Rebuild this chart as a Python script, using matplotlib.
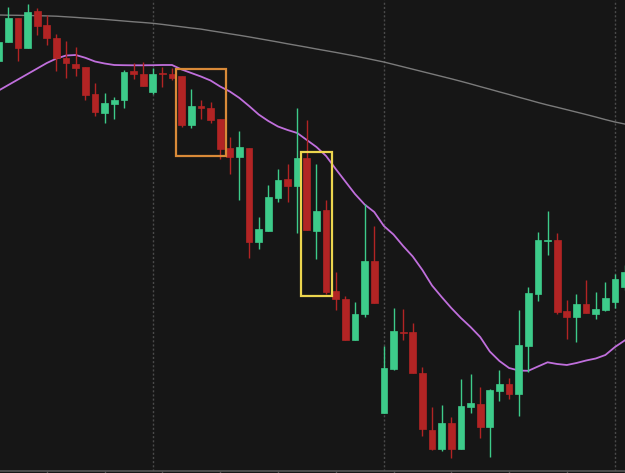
import matplotlib
matplotlib.use("Agg")
import matplotlib.pyplot as plt
from matplotlib.patches import Rectangle
import numpy as np

# ---------------- data ----------------
opens = [439.0, 458.3, 481.7, 452.3, 489.0, 475.0, 462.3, 441.7, 436.0, 433.3,
         406.0, 387.5, 396.3, 399.7, 429.0, 426.0, 408.3, 426.7, 426.0, 424.0,
         375.0, 394.3, 391.7, 380.7, 351.7, 342.7, 352.3, 258.3, 269.3, 301.7,
         320.7, 314.0, 341.7, 269.3, 290.0, 209.0, 201.5, 160.0, 185.8, 239.3,
         87.3, 131.0, 168.3, 168.3, 126.7, 70.0, 50.7, 76.7, 50.7, 93.3,
         96.0, 73.3, 109.3, 116.0, 106.0, 154.3, 206.0, 259.2, 260.0, 189.0,
         182.7, 196.0, 186.0, 190.0, 198.3, 213.0]
highs = [458.3, 493.3, 481.7, 496.0, 491.7, 485.0, 465.7, 459.3, 453.3, 433.3,
         416.7, 406.7, 403.3, 430.0, 437.3, 438.0, 431.7, 432.7, 432.3, 424.0,
         410.7, 399.7, 398.3, 380.7, 362.7, 369.3, 352.3, 282.7, 315.0, 331.0,
         336.0, 391.7, 380.0, 336.0, 300.0, 228.3, 204.0, 198.3, 296.0, 274.3,
         154.0, 192.3, 191.0, 176.7, 133.3, 92.7, 95.0, 83.3, 120.7, 126.0,
         113.3, 111.0, 130.0, 121.7, 190.0, 213.3, 268.3, 289.3, 266.7, 200.0,
         206.0, 220.0, 208.3, 218.3, 226.0, 235.0]
lows = [439.0, 458.3, 439.0, 452.3, 465.0, 455.0, 429.3, 422.3, 424.0, 400.0,
        384.0, 377.3, 380.7, 392.3, 420.7, 414.0, 406.0, 412.7, 420.0, 372.7,
        372.0, 380.7, 376.7, 341.0, 326.0, 300.0, 241.7, 250.7, 269.3, 298.3,
        298.3, 266.7, 270.0, 240.7, 206.0, 190.0, 160.0, 160.0, 182.7, 197.3,
        87.3, 130.0, 160.0, 126.7, 64.0, 50.0, 49.3, 41.7, 50.7, 86.7,
        61.7, 43.3, 99.0, 100.7, 84.0, 128.3, 199.0, 245.0, 185.7, 160.7,
        158.3, 186.7, 180.7, 189.0, 191.7, 210.0]
closes = [458.3, 481.7, 451.7, 488.3, 474.3, 461.7, 441.7, 436.7, 432.3, 405.0,
          387.7, 397.3, 400.3, 428.3, 425.7, 414.3, 426.0, 426.0, 421.7, 375.0,
          394.0, 391.7, 380.0, 351.0, 342.7, 353.0, 258.3, 270.7, 303.3, 320.0,
          314.3, 341.7, 270.0, 289.3, 208.3, 201.3, 160.0, 186.0, 239.3, 197.3,
          132.3, 169.0, 167.3, 126.7, 70.7, 50.7, 76.7, 51.3, 94.0, 96.7,
          73.3, 110.0, 116.0, 106.0, 155.0, 207.3, 260.0, 260.2, 188.3, 182.7,
          196.0, 186.7, 191.0, 201.7, 221.0, 228.3]
ma_fast = [409.5, 415.0, 420.5, 426.0, 431.5, 437.0, 441.5, 444.5, 445.0, 442.2,
           438.5, 436.5, 435.0, 434.8, 434.7, 434.7, 434.8, 435.0, 435.0, 430.5,
           427.0, 423.5, 419.5, 413.5, 408.5, 402.0, 394.0, 385.5, 379.0, 373.5,
           370.0, 367.0, 360.0, 353.0, 344.0, 331.0, 318.5, 306.0, 295.5, 288.0,
           274.0, 265.5, 254.0, 243.5, 230.0, 214.5, 203.0, 192.0, 182.0, 173.0,
           163.0, 148.5, 139.0, 132.0, 129.5, 129.2, 133.5, 137.7, 136.0, 135.0,
           137.0, 139.5, 141.5, 145.0, 153.0, 159.5]
ma_slow = [485.0, 484.8, 484.7, 484.5, 484.3, 484.1, 483.8, 483.2, 482.6, 481.9,
           481.3, 480.6, 479.8, 479.0, 478.2, 477.5, 476.7, 475.6, 474.4, 473.2,
           472.0, 470.9, 469.3, 467.8, 466.2, 464.7, 463.1, 461.4, 459.7, 458.0,
           456.2, 454.5, 452.8, 451.0, 449.3, 447.6, 445.8, 444.0, 442.0, 440.0,
           438.0, 435.6, 433.2, 430.8, 428.4, 426.0, 423.6, 421.2, 418.7, 416.1,
           413.4, 410.8, 408.1, 405.5, 402.8, 400.2, 397.5, 395.0, 392.7, 390.3,
           387.9, 385.5, 383.0, 380.4, 378.0, 376.0]
session_breaks = [16, 40, 64]
tick_positions = [5, 11, 17, 23, 29, 35, 41, 47, 53, 59, 65]
# highlight boxes: (x_start, x_end, price_low, price_high)
box_orange = [18.4, 23.6, 344.0, 431.0]
box_yellow = [31.4, 34.6, 204.3, 347.7]

# ---------------- style ----------------
BG = "#161616"
UP = "#3dcb8a"
DOWN = "#b22424"

fig = plt.figure(figsize=(6.25, 4.73), dpi=100, facecolor=BG)
ax = fig.add_axes([0, 2 / 473, 1, 471 / 473])
ax.set_facecolor(BG)

n = len(opens)
x = np.arange(n)
body_w = 0.7

for xb in session_breaks:
    ax.axvline(xb, color="#4a4a4a", lw=1.0, ls=(0, (1.5, 1.5)), zorder=1)

ax.plot(x, ma_slow, color="#7a7a7a", lw=1.0, zorder=2)
ax.plot(x, ma_fast, color="#c06fdc", lw=1.3, zorder=2)

for i in range(n):
    o, h, l, c = opens[i], highs[i], lows[i], closes[i]
    col = UP if c >= o else DOWN
    ax.vlines(x[i], l, h, color=col, lw=1.0, zorder=3)
    lo, hi = min(o, c), max(o, c)
    hgt = max(hi - lo, 1.2)
    ax.add_patch(Rectangle((x[i] - body_w / 2, lo), body_w, hgt,
                           facecolor=col, edgecolor=col, lw=0.5, zorder=4))

for box, col in [(box_orange, "#d98a38"), (box_yellow, "#ecd54e")]:
    x0, x1, p0, p1 = box
    ax.add_patch(Rectangle((x0, p0), x1 - x0, p1 - p0, fill=False,
                           edgecolor=col, lw=1.6, zorder=5))

ax.set_xlim(0.135, 65.04)
ax.set_ylim(29, 500)

for s in ["top", "right", "left"]:
    ax.spines[s].set_visible(False)
ax.spines["bottom"].set_color("#555555")
ax.spines["bottom"].set_linewidth(1.2)
ax.set_yticks([])
ax.set_xticks(tick_positions)
ax.set_xticklabels([])
ax.tick_params(axis="x", colors="#555555", length=3, width=1, direction="out")

fig.savefig("out.png", dpi=100, facecolor=BG)
